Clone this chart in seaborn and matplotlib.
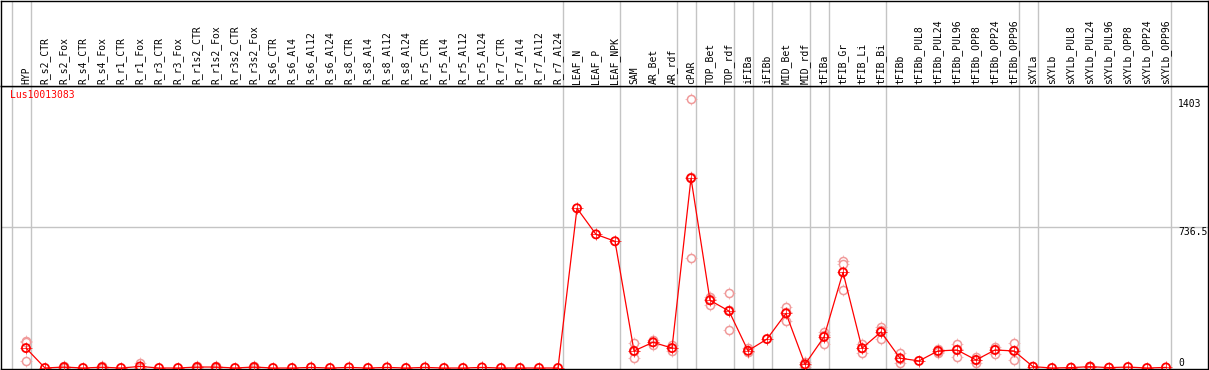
import numpy as np
import pandas as pd
import matplotlib
matplotlib.use("Agg")
import matplotlib.pyplot as plt
import seaborn as sns

# sample columns, left to right
samples = [
    "HYP",
    "R_s2_CTR", "R_s2_Fox", "R_s4_CTR", "R_s4_Fox", "R_r1_CTR", "R_r1_Fox",
    "R_r3_CTR", "R_r3_Fox", "R_r1s2_CTR", "R_r1s2_Fox", "R_r3s2_CTR", "R_r3s2_Fox",
    "R_s6_CTR", "R_s6_Al4", "R_s6_Al12", "R_s6_Al24", "R_s8_CTR", "R_s8_Al4",
    "R_s8_Al12", "R_s8_Al24", "R_r5_CTR", "R_r5_Al4", "R_r5_Al12", "R_r5_Al24",
    "R_r7_CTR", "R_r7_Al4", "R_r7_Al12", "R_r7_Al24",
    "LEAF_N", "LEAF_P", "LEAF_NPK", "SAM", "AR_Bet", "AR_rdf", "cPAR",
    "TOP_Bet", "TOP_rdf", "iFIBa", "iFIBb", "MID_Bet", "MID_rdf", "tFIBa",
    "tFIB_Gr", "tFIB_Li", "tFIB_Bi", "tFIBb", "tFIBb_PUL8", "tFIBb_PUL24",
    "tFIBb_PUL96", "tFIBb_OPP8", "tFIBb_OPP24", "tFIBb_OPP96", "sXYLa", "sXYLb",
    "sXYLb_PUL8", "sXYLb_PUL24", "sXYLb_PUL96", "sXYLb_OPP8", "sXYLb_OPP24",
    "sXYLb_OPP96",
]

# mean expression per sample
mean_expr = [
    104,
    0, 5, 0, 4, 0, 8, 0, 0, 5, 5, 0, 5, 0, 0, 3, 0, 3, 0, 3, 0, 3, 0, 0, 3, 0, 0, 0, 0,
    833, 697, 661, 89, 134, 104, 990, 353, 297, 90, 151, 285, 19, 162,
    499, 103, 188, 51, 37, 89, 94, 42, 94, 89, 7, 0,
    2, 7, 2, 5, 0, 3,
]

# individual replicates (faint circles)
rep_samples = [
    "HYP", "R_s2_Fox", "R_s4_Fox", "R_r1_Fox", "R_r1s2_CTR", "R_r1s2_Fox",
    "R_r3s2_Fox", "SAM", "AR_Bet", "AR_rdf", "cPAR", "TOP_Bet", "TOP_rdf",
    "iFIBa", "MID_Bet", "MID_rdf", "tFIBa", "tFIB_Gr", "tFIB_Li", "tFIB_Bi",
    "tFIBb", "tFIBb_PUL24", "tFIBb_PUL96", "tFIBb_OPP8", "tFIBb_OPP24",
    "tFIBb_OPP96", "sXYLb_PUL24",
]
rep_values = [
    [142, 134, 36], [12, 2, 1], [9, 2, 1], [25, 0, 0], [10, 3, 2], [10, 3, 2],
    [10, 3, 2], [129, 51, 88], [146, 136, 120], [120, 104, 88], [1403, 572, 995],
    [369, 329, 361], [390, 197, 304], [103, 85, 82], [318, 247, 290], [33, 18, 6],
    [189, 127, 170], [560, 542, 405], [127, 80, 102], [212, 153, 199],
    [77, 28, 48], [101, 80, 86], [125, 56, 101], [25, 59, 42], [111, 73, 98],
    [129, 42, 96], [12, 5, 4],
]

# group separators drawn after these samples
group_ends = ["HYP", "R_r7_Al24", "LEAF_NPK", "AR_rdf", "cPAR", "TOP_rdf",
              "iFIBa", "iFIBb", "MID_rdf", "tFIBa", "tFIB_Bi", "tFIBb_OPP96",
              "sXYLa", "sXYLb_OPP96"]

gene = "Lus10013083"
y_ticks = [0, 736.5, 1403]
y_tick_labels = ["0", "736.5", "1403"]

pos = {s: i for i, s in enumerate(samples)}
df = pd.DataFrame({"sample": samples, "x": np.arange(len(samples)), "expr": mean_expr})
reps = pd.DataFrame(
    [(pos[s], v) for s, vals in zip(rep_samples, rep_values) for v in vals],
    columns=["x", "expr"],
)

sns.set_theme(style="white")
plt.rcParams["font.family"] = ["DejaVu Sans Mono", "DejaVu Sans"]

W, H = 1209, 370
fig = plt.figure(figsize=(W / 100, H / 100), dpi=100)
sep = 86
ax = fig.add_axes([1 / W, 1 / H, 1207 / W, (369 - sep) / H])
hax = fig.add_axes([1 / W, (H - sep) / H, 1207 / W, (sep - 1) / H], sharex=ax)

xlo, xhi = (1 - 26) / 19, (1208 - 26) / 19
ax.set_xlim(xlo, xhi)
ax.set_ylim((368 - 369) * 5.216, (368 - sep) * 5.216)
hax.set_ylim(0, 1)

grid = "#c4c4c4"
for a in (ax, hax):
    a.axvline(-0.75, color=grid, lw=1, zorder=0)
    for s in group_ends:
        a.axvline(pos[s] + 0.25, color=grid, lw=1, zorder=0)
    for sp in a.spines.values():
        sp.set_color("black")
        sp.set_linewidth(1)
    a.set_xticks([])
    a.set_yticks([])
    a.set_xlabel("")
    a.set_ylabel("")
ax.axhline(736.5, color=grid, lw=1, zorder=0)

# replicates
sns.scatterplot(data=reps, x="x", y="expr", ax=ax, marker="+", s=70,
                color="#f2a8a8", linewidth=0.5, zorder=2)
sns.scatterplot(data=reps, x="x", y="expr", ax=ax, marker="o", s=34,
                facecolor="white", edgecolor="#f09a9a", linewidth=1.1, zorder=2)
# mean line
sns.lineplot(data=df, x="x", y="expr", ax=ax, color="red", lw=0.9, zorder=3)
sns.scatterplot(data=df, x="x", y="expr", ax=ax, marker="+", s=70,
                color="red", linewidth=0.5, zorder=4)
sns.scatterplot(data=df, x="x", y="expr", ax=ax, marker="o", s=34,
                facecolor="none", edgecolor="red", linewidth=1.3, zorder=4)
ax.set_xlabel("")
ax.set_ylabel("")

# header labels
for s, i in pos.items():
    hax.text(i, 2 / (sep - 1), s, rotation=90, ha="center", va="bottom",
             fontsize=7, color="black")

ax.text(9 / 1207, 0.985, gene, transform=ax.transAxes, color="red",
        fontsize=7, ha="left", va="top")

xr = (1178 - 26) / 19
for v, t in zip(y_ticks, y_tick_labels):
    ax.text(xr, v, t, fontsize=7, ha="left",
            va="bottom" if v == 0 else "top", color="black")

fig.savefig("out.png", dpi=100)
